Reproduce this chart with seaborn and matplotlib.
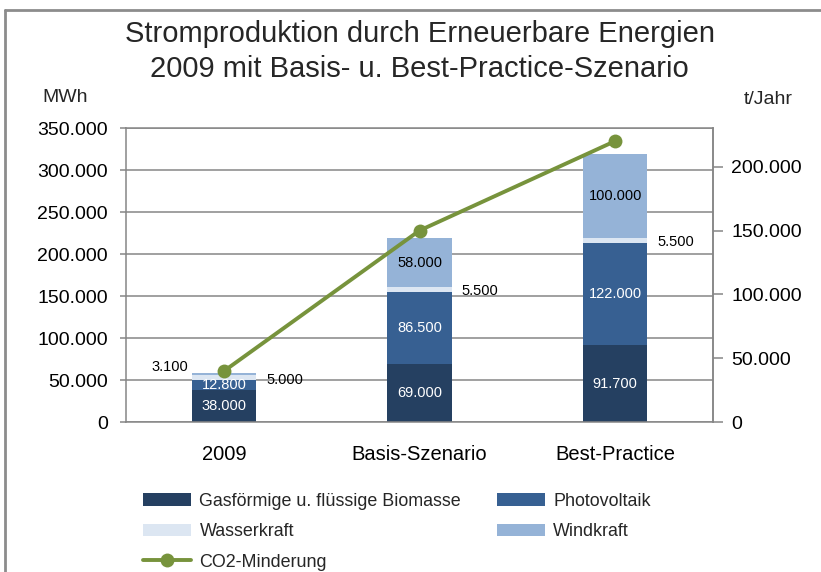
import numpy as np
import pandas as pd
import matplotlib
matplotlib.use("Agg")
import matplotlib.pyplot as plt
import seaborn as sns
from matplotlib.ticker import FuncFormatter, MultipleLocator, FixedLocator
from matplotlib.lines import Line2D
from matplotlib.patches import Patch

# ---------------- data ----------------
categories = ["2009", "Basis-Szenario", "Best-Practice"]
biomasse = [38000, 69000, 91700]
photovoltaik = [12800, 86500, 122000]
wasserkraft = [5000, 5500, 5500]
windkraft = [3100, 58000, 100000]
co2_minderung = [40000, 150000, 220000]

series_names = ["Gasförmige u. flüssige Biomasse", "Photovoltaik", "Wasserkraft", "Windkraft"]
line_name = "CO2-Minderung"
title = "Stromproduktion durch Erneuerbare Energien\n2009 mit Basis- u. Best-Practice-Szenario"
left_unit = "MWh"
right_unit = "t/Jahr"

# ---------------- style ----------------
sns.set_theme(style="white")
plt.rcParams["font.family"] = ["Liberation Sans", "DejaVu Sans"]
GRID = "#868686"
colors = ["#254061", "#376092", "#DCE6F2", "#95B3D7"]
label_colors = ["white", "white", "black", "black"]
line_color = "#77933C"


def de_fmt(v, pos=None):
    return f"{int(round(v)):,}".replace(",", ".")


W, H = 821, 572
fig = plt.figure(figsize=(W / 100, H / 100), dpi=100)
L, R, T, B = 126, 713, 128.3, 422.3
ax = fig.add_axes([L / W, 1 - B / H, (R - L) / W, (B - T) / H])

layers = [biomasse, photovoltaik, wasserkraft, windkraft]
bottom = np.zeros(len(categories))
bottoms = []
for name, vals, col in zip(series_names, layers, colors):
    d = pd.DataFrame({"cat": categories, "val": vals})
    sns.barplot(data=d, x="cat", y="val", order=categories, bottom=bottom.copy(),
                color=col, saturation=1, width=0.33, linewidth=0, errorbar=None,
                ax=ax, zorder=2)
    bottoms.append(bottom.copy())
    bottom = bottom + np.array(vals, dtype=float)

ax.set_xlabel("")
ax.set_ylabel("")
ax.set_ylim(0, 350000)
ax.set_xlim(-0.5, 2.5)
ax.yaxis.set_major_locator(MultipleLocator(50000))
ax.yaxis.set_major_formatter(FuncFormatter(de_fmt))
ax.yaxis.grid(True, color=GRID, lw=1.1, zorder=0)
ax.set_axisbelow(True)
ax.set_xticks(range(len(categories)))
ax.set_xticklabels(categories)
ax.xaxis.set_minor_locator(FixedLocator([-0.5, 0.5, 1.5, 2.5]))
ax.tick_params(axis="x", which="major", length=0, pad=16, labelsize=14.5, labelcolor="black")
ax.tick_params(axis="x", which="minor", length=4, width=1.1, color=GRID, direction="out")
ax.tick_params(axis="y", length=4, width=1.1, color=GRID, pad=9, labelsize=14,
               labelcolor="black", left=True)
for s in ax.spines.values():
    s.set_color(GRID)
    s.set_linewidth(1.1)
    s.set_visible(True)

# data labels
for li, (vals, bots) in enumerate(zip(layers, bottoms)):
    for i, v in enumerate(vals):
        yc = bots[i] + v / 2
        if li == 2:  # Wasserkraft: right of bar
            ax.annotate(de_fmt(v), (i + 0.165, yc), xytext=(10, -2), textcoords="offset pixels",
                        ha="left", va="center", fontsize=10.5, color="black", zorder=5)
        elif li == 3 and v < 10000:  # small wind value: left of bar
            ax.annotate(de_fmt(v), (i - 0.165, yc), xytext=(-3, 7), textcoords="offset pixels",
                        ha="right", va="center", fontsize=10.5, color="black", zorder=5)
        else:
            ax.annotate(de_fmt(v), (i, yc), ha="center", va="center", fontsize=10.5,
                        color=label_colors[li], zorder=5)

# secondary axis
ax2 = ax.twinx()
sns.lineplot(x=list(range(len(categories))), y=co2_minderung, ax=ax2, color=line_color,
             linewidth=2.8, marker="o", markersize=10, markeredgewidth=0, zorder=6)
ax2.set_ylim(0, 230000)
ax2.set_xlim(-0.5, 2.5)
ax2.yaxis.set_major_locator(MultipleLocator(50000))
ax2.yaxis.set_major_formatter(FuncFormatter(de_fmt))
ax2.tick_params(axis="y", length=7, width=1.1, color=GRID, pad=6, labelsize=14,
                labelcolor="black", right=True)
ax2.set_ylabel("")
ax2.grid(False)
for k, s in ax2.spines.items():
    s.set_visible(k == "right")
    s.set_color(GRID)
    s.set_linewidth(1.1)

# title and units
fig.text((L + R) / 2 / W, 1 - 51.5 / H, title, ha="center", va="center", fontsize=21,
         linespacing=1.35)
fig.text(65 / W, 1 - 97 / H, left_unit, ha="center", va="center", fontsize=14)
fig.text(768 / W, 1 - 100 / H, right_unit, ha="center", va="center", fontsize=14)

# legend
h = [Patch(facecolor=c, edgecolor="none") for c in colors]
lh = Line2D([], [], color=line_color, lw=2.8, marker="o", markersize=10, markeredgewidth=0)
handles = [h[0], h[2], lh, h[1], h[3]]
labels = [series_names[0], series_names[2], line_name, series_names[1], series_names[3]]
fig.legend(handles, labels, ncol=2, loc="upper left", bbox_to_anchor=(143 / W, 1 - 493 / H),
           frameon=False, fontsize=12.9, handlelength=2.7, handleheight=0.7,
           handletextpad=0.45, columnspacing=2.0, labelspacing=0.74, borderaxespad=0,
           borderpad=0)

# outer border (left and top edges visible)
fig.add_artist(Line2D([5 / W, 5 / W], [0, 1 - 10 / H], transform=fig.transFigure,
                      color="#8c8c8c", lw=2))
fig.add_artist(Line2D([5 / W, 1], [1 - 10 / H, 1 - 10 / H], transform=fig.transFigure,
                      color="#8c8c8c", lw=2))

fig.savefig("out.png", dpi=100)
